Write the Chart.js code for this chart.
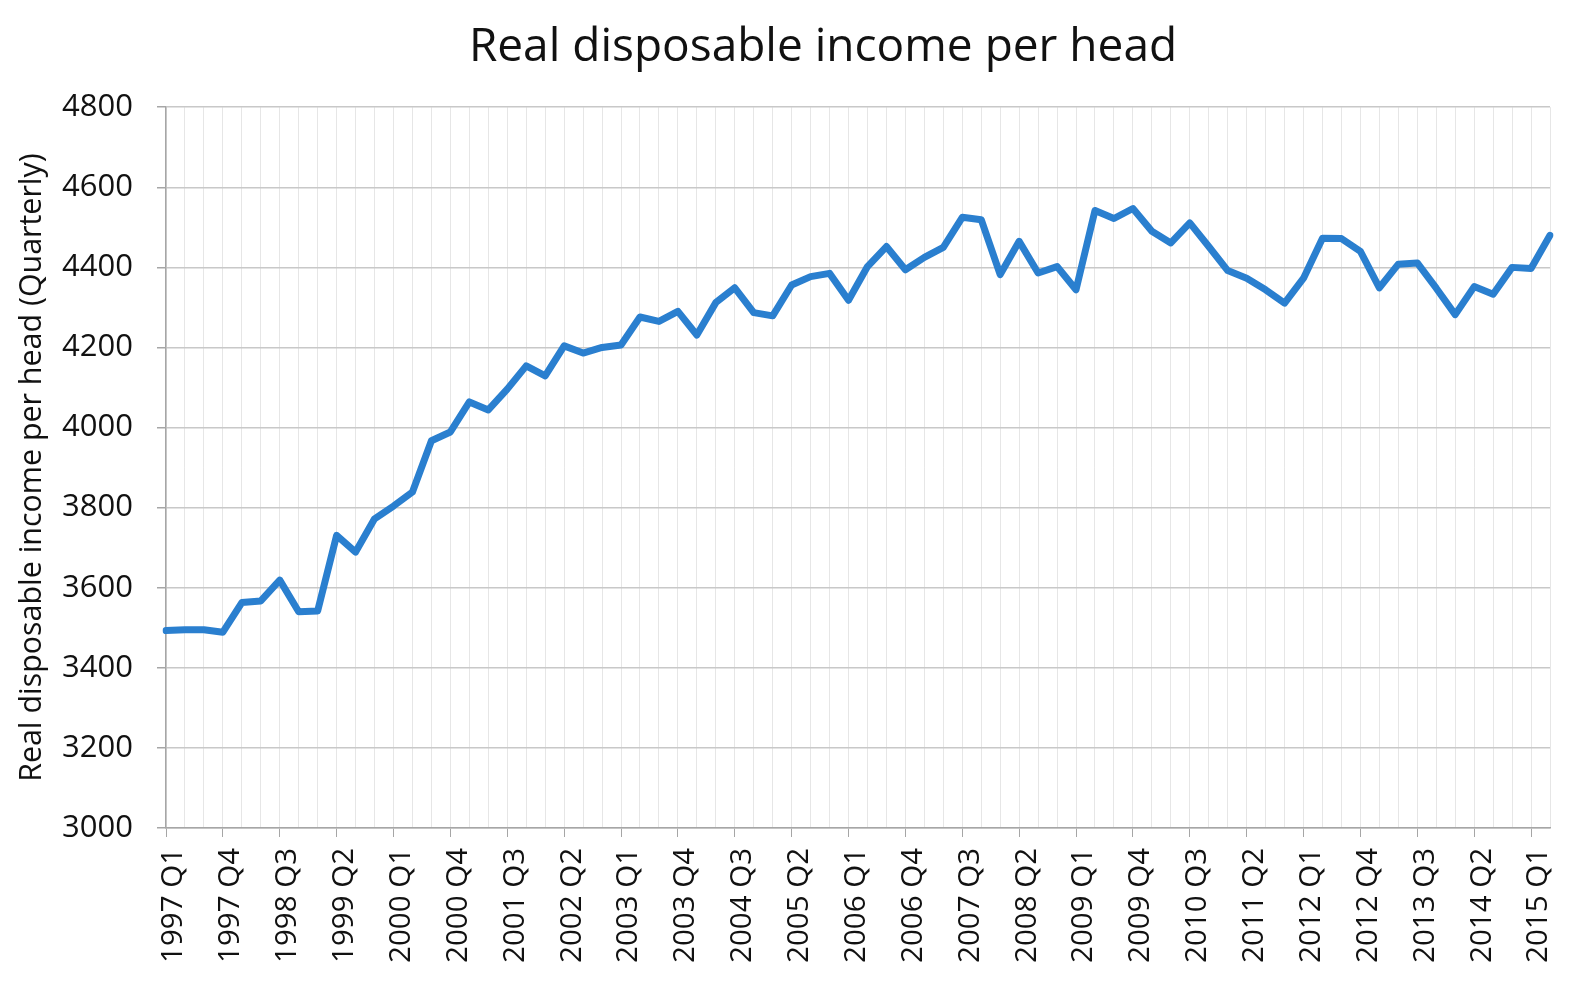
<!DOCTYPE html>
<html>
<head>
<meta charset="utf-8">
<script src="https://cdn.jsdelivr.net/npm/chart.js@4.4.1/dist/chart.umd.min.js"></script>
<style>
  html, body { margin: 0; padding: 0; background: #fff; }
  #wrap { width: 1576px; height: 998px; position: relative; }
</style>
</head>
<body>
<div id="wrap"><canvas id="income"></canvas></div>
<script>
// Quarters 1997 Q1 .. 2015 Q2
const years = [1997, 1998, 1999, 2000, 2001, 2002, 2003, 2004, 2005, 2006,
               2007, 2008, 2009, 2010, 2011, 2012, 2013, 2014, 2015];
const quarters = ['Q1', 'Q2', 'Q3', 'Q4'];
const labels = [];
years.forEach(y => quarters.forEach(q => labels.push(y + ' ' + q)));
labels.splice(74); // data ends at 2015 Q2

// Real disposable income per head
const income = [
    3493, 3495, 3495, 3489, 3563, 3567, 3619, 3540, 3542, 3731,
    3689, 3772, 3804, 3839, 3967, 3989, 4064, 4044, 4096, 4154,
    4129, 4204, 4186, 4200, 4206, 4276, 4265, 4290, 4231, 4312,
    4349, 4287, 4279, 4356, 4377, 4385, 4318, 4402, 4452, 4394,
    4425, 4450, 4525, 4519, 4382, 4465, 4386, 4402, 4344, 4542,
    4522, 4547, 4490, 4461, 4511, 4452, 4392, 4373, 4344, 4311,
    4373, 4473, 4472, 4440, 4349, 4408, 4411, 4348, 4282, 4352,
    4333, 4400, 4397, 4480
];

const yTicks = { min: 3000, max: 4800, step: 200 };

const FONT = "'Open Sans', 'Noto Sans', sans-serif";

// the original title sits a bit right of the canvas centre
const titleShift = {
    id: 'titleShift',
    afterLayout(chart) {
        const t = chart.titleBlock;
        if (t) { t.left += 48; t.right += 48; }
    }
};

document.addEventListener('DOMContentLoaded', () => {
    const ctx = document.getElementById('income');
    new Chart(ctx, {
        type: 'line',
        data: {
            labels: labels,
            datasets: [{
                label: 'Real disposable income per head',
                data: income,
                borderColor: '#2a7fcf',
                borderWidth: 7,
                borderJoinStyle: 'round',
                borderCapStyle: 'round',
                pointRadius: 0,
                tension: 0,
                fill: false
            }]
        },
        options: {
            responsive: true,
            maintainAspectRatio: false,
            animation: false,
            layout: { padding: { left: 0, right: 26, top: 0, bottom: 0 } },
            plugins: {
                legend: { display: false },
                tooltip: { enabled: false },
                title: {
                    display: true,
                    text: 'Real disposable income per head',
                    color: '#111',
                    font: { family: FONT, size: 46, weight: 'normal' },
                    padding: { top: 20, bottom: 32 }
                }
            },
            scales: {
                x: {
                    type: 'category',
                    offset: false,
                    afterFit: scale => {
                        scale.height = 170;
                        scale.paddingLeft = 0;
                        scale.paddingRight = 0;
                    },
                    grid: {
                        color: '#e6e6e6',
                        lineWidth: 1,
                        tickLength: 9,
                        tickColor: c => (c.index % 3 === 0 ? '#a6a6a6' : 'rgba(0,0,0,0)')
                    },
                    border: { color: '#a6a6a6', width: 1.5 },
                    ticks: {
                        autoSkip: false,
                        minRotation: 90,
                        maxRotation: 90,
                        padding: 11,
                        labelOffset: 8,
                        color: '#111',
                        font: { family: FONT, size: 29.5 },
                        callback: function (val, i) {
                            return i % 3 === 0 ? this.getLabelForValue(val) : '';
                        }
                    }
                },
                y: {
                    min: yTicks.min,
                    max: yTicks.max,
                    afterFit: scale => { scale.width = 166; },
                    grid: {
                        color: '#c8c8c8',
                        lineWidth: 1.5,
                        tickLength: 9,
                        tickColor: '#a6a6a6'
                    },
                    border: { color: '#a6a6a6', width: 1.5 },
                    ticks: {
                        stepSize: yTicks.step,
                        padding: 24,
                        color: '#111',
                        font: { family: FONT, size: 31 },
                        callback: v => String(v)
                    },
                    title: {
                        display: true,
                        text: 'Real disposable income per head (Quarterly)',
                        color: '#111',
                        font: { family: FONT, size: 30.4 },
                        padding: { top: 14, bottom: 0 }
                    }
                }
            }
        },
        plugins: [titleShift]
    });
});
</script>
</body>
</html>
